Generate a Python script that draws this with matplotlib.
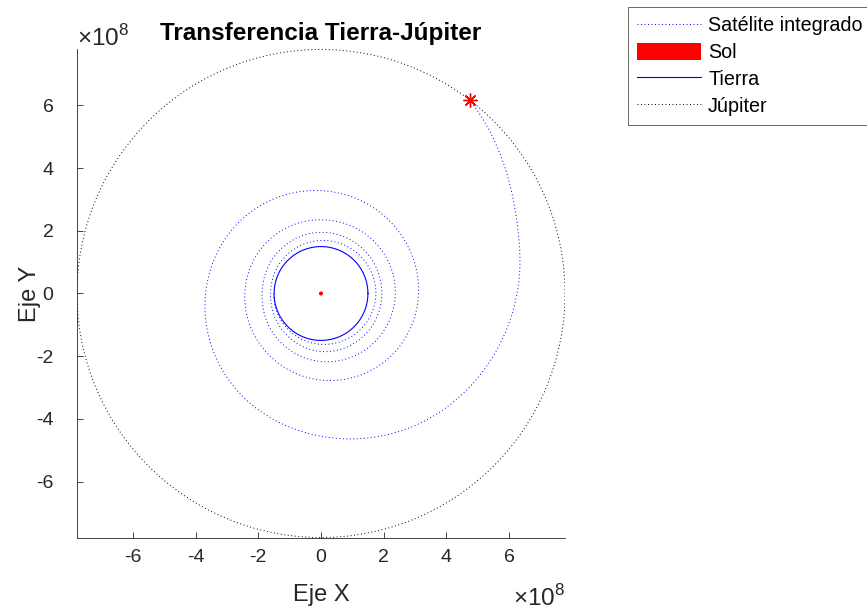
import numpy as np
import matplotlib
matplotlib.use("Agg")
import matplotlib.pyplot as plt
from matplotlib.ticker import FuncFormatter, FixedLocator

plt.rcParams['font.family'] = ['Liberation Sans', 'DejaVu Sans']
plt.rcParams['mathtext.fontset'] = 'custom'
plt.rcParams['mathtext.rm'] = 'Liberation Sans'

# Orbit radii (km)
R_TIERRA = 1.496e8
R_JUPITER = 7.78e8
SUN_DRAW_RADIUS = 6.5e6

# Integrated satellite trajectory: polar angle (deg) and radius (1e8 km)
sat_theta_deg = [180, 225, 270, 315, 360, 405, 450, 495, 540, 585, 630, 675,
                 720, 765, 810, 855, 900, 945, 990, 1035, 1080, 1125, 1170,
                 1215, 1260, 1305, 1350, 1395, 1440, 1485, 1530, 1575, 1620,
                 1665, 1710, 1755, 1800, 1824, 1852.4]
sat_r_1e8 = [1.50, 1.55, 1.62, 1.70, 1.75, 1.73, 1.69, 1.64, 1.61, 1.70, 1.85,
             1.92, 1.94, 1.95, 1.95, 1.91, 1.88, 2.00, 2.17, 2.30, 2.37, 2.37,
             2.35, 2.38, 2.43, 2.55, 2.76, 2.98, 3.11, 3.18, 3.28, 3.45, 3.68,
             4.05, 4.55, 5.35, 6.25, 6.76, 7.78]

# Arrival point at Jupiter (km)
llegada_x = 4.75e8
llegada_y = 6.16e8

x_ticks = [-6, -4, -2, 0, 2, 4, 6]
y_ticks = [-6, -4, -2, 0, 2, 4, 6]
legend_labels = ['Satélite integrado', 'Sol', 'Tierra', 'Júpiter']

TXT = '#262626'


def catmull_rom(px, py, n=60):
    P = np.column_stack([px, py]).astype(float)
    P = np.vstack([2 * P[0] - P[1], P, 2 * P[-1] - P[-2]])
    t = np.linspace(0, 1, n, endpoint=False)[:, None]
    out = []
    for i in range(1, len(P) - 2):
        p0, p1, p2, p3 = P[i - 1], P[i], P[i + 1], P[i + 2]
        out.append(0.5 * ((2 * p1) + (-p0 + p2) * t
                          + (2 * p0 - 5 * p1 + 4 * p2 - p3) * t ** 2
                          + (-p0 + 3 * p1 - 3 * p2 + p3) * t ** 3))
    out.append(P[-2][None, :])
    return np.vstack(out)


curve = catmull_rom(sat_theta_deg, sat_r_1e8)
th = np.deg2rad(curve[:, 0])
rr = curve[:, 1] * 1e8
sat_x = rr * np.cos(th)
sat_y = rr * np.sin(th)

phi = np.linspace(0, 2 * np.pi, 721)

fig = plt.figure(figsize=(8.67, 6.11), dpi=100)
ax = fig.add_axes([0.0888, 0.1195, 0.5629, 0.8003])

dot = (0, (1, 2.6))
h_sat, = ax.plot(sat_x, sat_y, color=(0, 0, 1), lw=0.7, linestyle=dot)
h_sol = ax.fill(SUN_DRAW_RADIUS * np.cos(phi), SUN_DRAW_RADIUS * np.sin(phi),
                color=(1, 0, 0), lw=0)[0]
h_tierra, = ax.plot(R_TIERRA * np.cos(phi), R_TIERRA * np.sin(phi),
                    color=(0, 0, 1), lw=0.8)
h_jup, = ax.plot(R_JUPITER * np.cos(phi), R_JUPITER * np.sin(phi),
                 color='k', lw=0.7, linestyle=dot)
ax.plot([llegada_x], [llegada_y], linestyle='none', marker=(8, 2, 0),
        markersize=10, markeredgewidth=1.0, color=(1, 0, 0))

lim = R_JUPITER
ax.set_xlim(-lim, lim)
ax.set_ylim(-lim, lim)
ax.set_aspect('equal', adjustable='box')

ax.xaxis.set_major_locator(FixedLocator([v * 1e8 for v in x_ticks]))
ax.yaxis.set_major_locator(FixedLocator([v * 1e8 for v in y_ticks]))
fmt = FuncFormatter(lambda v, p: f"{v / 1e8:.0f}")
ax.xaxis.set_major_formatter(fmt)
ax.yaxis.set_major_formatter(fmt)

for s in ['top', 'right']:
    ax.spines[s].set_visible(False)
for s in ['left', 'bottom']:
    ax.spines[s].set_color(TXT)
    ax.spines[s].set_linewidth(0.6)
ax.tick_params(direction='in', length=4, width=0.6, colors=TXT, labelsize=14)
ax.tick_params(axis='x', pad=8)
ax.tick_params(axis='y', pad=17)

ax.set_xlabel('Eje X', fontsize=17, color=TXT, labelpad=13)
ax.set_ylabel('Eje Y', fontsize=17, color=TXT, labelpad=-4)
ax.set_title('Transferencia Tierra-Júpiter', fontsize=17.5, fontweight='bold',
             pad=7)

ax.text(0.0, 0.998, r'$\times10^{8}$', transform=ax.transAxes, fontsize=17.5,
        color=TXT, ha='left', va='bottom')
ax.text(1.0, -0.098, r'$\times10^{8}$', transform=ax.transAxes, fontsize=17.5,
        color=TXT, ha='right', va='top')

leg = fig.legend([h_sat, h_sol, h_tierra, h_jup], legend_labels,
                 loc='upper left', bbox_to_anchor=(628 / 867, 1 - 7 / 611),
                 fontsize=14.2, frameon=True, fancybox=False,
                 handlelength=3.25, handleheight=0.95, handletextpad=0.36,
                 labelspacing=0.39, borderpad=0.45, borderaxespad=0)
leg.get_frame().set_edgecolor(TXT)
leg.get_frame().set_linewidth(0.6)

fig.savefig('out.png', dpi=100)
